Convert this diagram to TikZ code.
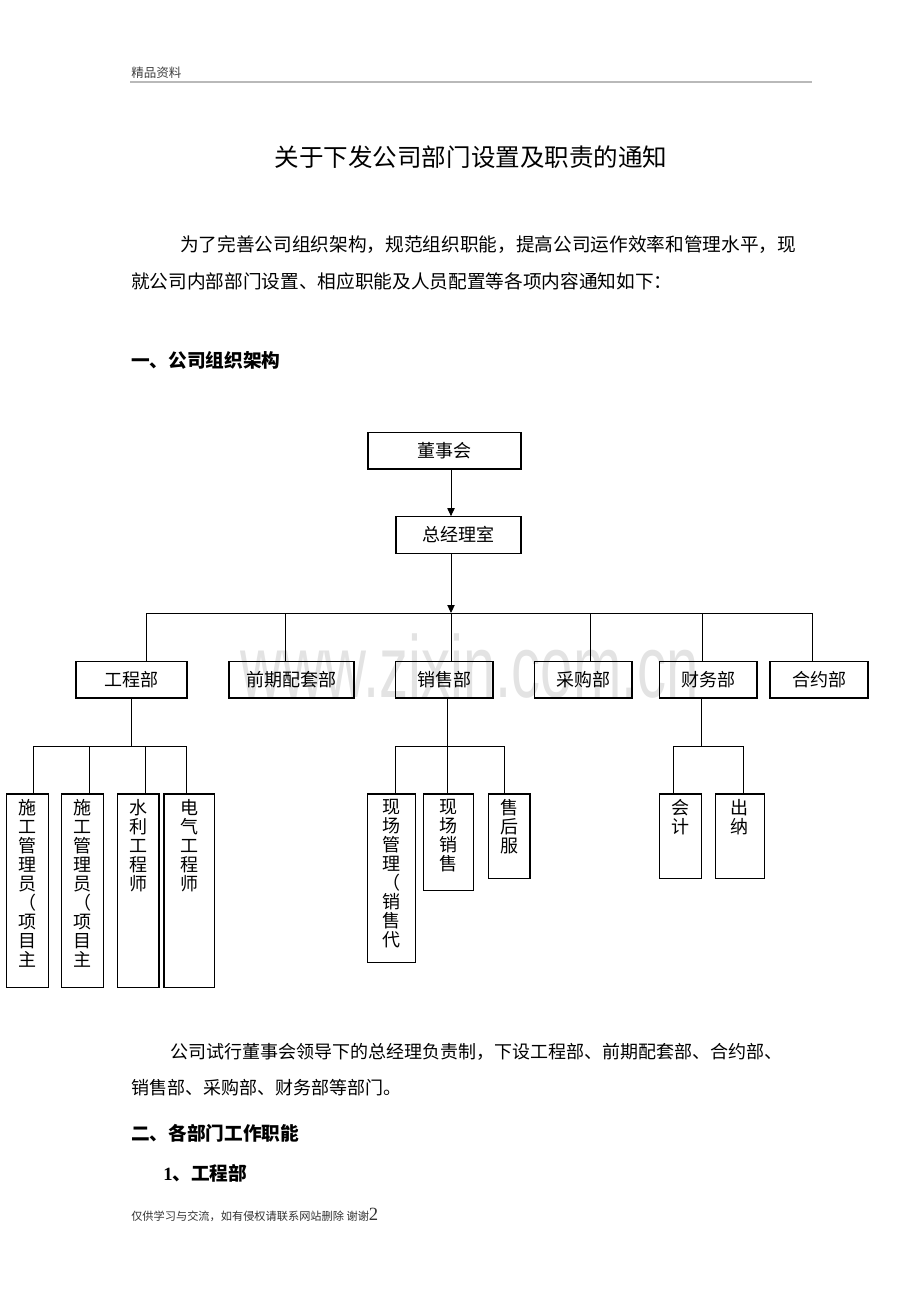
\documentclass[tikz,border=0pt]{standalone}
\usepackage{fontspec}
\setmainfont{Noto Sans CJK SC}
\newfontfamily\wmfont{Liberation Sans}
\newfontfamily\numfont{Liberation Serif}
\usetikzlibrary{arrows.meta,fit,positioning}
\newcommand{\bodysize}{\fontsize{14pt}{17pt}\selectfont}
\tikzset{
  box/.style={draw, line width=0.8pt, inner sep=0pt, font=\fontsize{13.5pt}{16pt}\selectfont},
  hbox/.style={box, minimum height=27.5pt, text height=10.8pt, text depth=1.1pt},
  vtext/.style={align=center, inner sep=0pt, font=\fontsize{13.5pt}{14.3pt}\selectfont},
  link/.style={line width=0.7pt},
  arr/.style={link, -{Triangle[length=6pt,width=5.5pt]}},
  txt/.style={anchor=west, inner sep=0pt, font=\bodysize},
  wmark/.style={anchor=base, inner sep=0pt, text=gray!22, font=\wmfont\fontsize{66pt}{70pt}\selectfont}
}

\begin{document}
\begin{tikzpicture}[x=0.75pt,y=-0.75pt]
  \useasboundingbox (0,0) rectangle (920,1302);
  \node[txt, font=\fontsize{9.4pt}{11pt}\selectfont, text=black!75] (hdr) at (131,73) {精品资料};
  \draw[gray!55, line width=1.5pt] (130,82) -- (812,82);
  \node[inner sep=0pt, font=\fontsize{18.4pt}{22pt}\selectfont] (ttl) at (471,157) {关于下发公司部门设置及职责的通知};
  \node[txt] (p1) at (180,245) {为了完善公司组织架构，规范组织职能，提高公司运作效率和管理水平，现};
  \node[txt] (p2) at (131,281) {就公司内部部门设置、相应职能及人员配置等各项内容通知如下：};
  \node[txt, font=\bodysize\bfseries] (s1) at (131,360) {一、公司组织架构};

  \node[wmark] (wm) at (470,697) {\scalebox{0.66}[1]{www.zixin.com.cn}};

  \node[hbox, minimum width=114.75pt] (dsh) at (444.5,450.65) {董事会};
  \node[hbox, minimum width=93.75pt] (zjl) at (458.5,535) {总经理室};
  \node[hbox, minimum width=83.25pt] (gcb) at (131.5,679.65) {工程部};
  \node[hbox, minimum width=93.75pt] (qpb) at (291.5,679.65) {前期配套部};
  \node[hbox, minimum width=73.3pt] (xsb) at (444.15,679.65) {销售部};
  \node[hbox, minimum width=73.3pt] (cgb) at (583.15,679.65) {采购部};
  \node[hbox, minimum width=73.1pt] (cwb) at (708.25,679.65) {财务部};
  \node[hbox, minimum width=73.5pt] (hyb) at (819,679.65) {合约部};

  \node[box, fit={(6.7,794) (48.3,987.3)}] (sg1) {};
  \node[box, fit={(61.7,794) (103.3,987.3)}] (sg2) {};
  \node[box, fit={(117.3,794) (159,987.3)}] (slg) {};
  \node[box, fit={(164,794) (214.3,987.3)}] (dqg) {};
  \node[box, fit={(367.7,794) (415.3,962.7)}] (xcg) {};
  \node[box, fit={(423.3,794) (473.3,890.7)}] (xcx) {};
  \node[box, fit={(488.3,794) (530,878.3)}] (shf) {};
  \node[box, fit={(659.7,794) (701.7,878.3)}] (kj) {};
  \node[box, fit={(715.3,794) (764.3,878.3)}] (cn) {};

  \foreach \n/\t in {sg1/{施\\工\\管\\理\\员\\（\\项\\目\\主},
                     sg2/{施\\工\\管\\理\\员\\（\\项\\目\\主},
                     slg/{水\\利\\工\\程\\师},
                     dqg/{电\\气\\工\\程\\师},
                     xcg/{现\\场\\管\\理\\（\\销\\售\\代},
                     xcx/{现\\场\\销\\售},
                     shf/{售\\后\\服},
                     kj/{会\\计},
                     cn/{出\\纳}}
    \node[vtext, below=4pt of \n.north] (t-\n) {\t};

  \coordinate (bus) at (451,613);
  \draw[arr] (bus |- dsh.south) -- (bus |- zjl.north);
  \draw[arr] (bus |- zjl.south) -- (bus);
  \draw[link] (146,613) -- (812,613);
  \foreach \x/\n in {146/gcb,285/qpb,451/xsb,590/cgb,702/cwb,812/hyb}
    \draw[link] (\x,613) -- (\x,0 |- \n.north);

  \draw[link] (131,0 |- gcb.south) -- (131,746);
  \draw[link] (33.7,746) -- (186.7,746);
  \foreach \x/\n in {33.7/sg1,89.3/sg2,145/slg,186.7/dqg}
    \draw[link] (\x,746) -- (\x,0 |- \n.north);

  \draw[link] (447.7,0 |- xsb.south) -- (447.7,746);
  \draw[link] (395.7,746) -- (504.3,746);
  \foreach \x/\n in {395.7/xcg,447.7/xcx,504.3/shf}
    \draw[link] (\x,746) -- (\x,0 |- \n.north);

  \draw[link] (701.7,0 |- cwb.south) -- (701.7,746);
  \draw[link] (673.3,746) -- (743.3,746);
  \foreach \x/\n in {673.3/kj,743.3/cn}
    \draw[link] (\x,746) -- (\x,0 |- \n.north);

  \node[txt, font=\fontsize{13.5pt}{16pt}\selectfont] (p3) at (170,1052) {公司试行董事会领导下的总经理负责制，下设工程部、前期配套部、合约部、};
  \node[txt, font=\fontsize{13.5pt}{16pt}\selectfont] (p4) at (131,1088) {销售部、采购部、财务部等部门。};
  \node[txt, font=\bodysize\bfseries] (s2) at (131,1133) {二、各部门工作职能};
  \node[txt, font=\bodysize\bfseries] (s3) at (163,1173) {{\numfont\bfseries 1}、工程部};
  \node[txt, font=\fontsize{8.4pt}{10pt}\selectfont, text=black!80] (ftr) at (131,1215) {仅供学习与交流，如有侵权请联系网站删除 谢谢{\numfont\fontsize{14pt}{16pt}\selectfont 2}};
\end{tikzpicture}
\end{document}
